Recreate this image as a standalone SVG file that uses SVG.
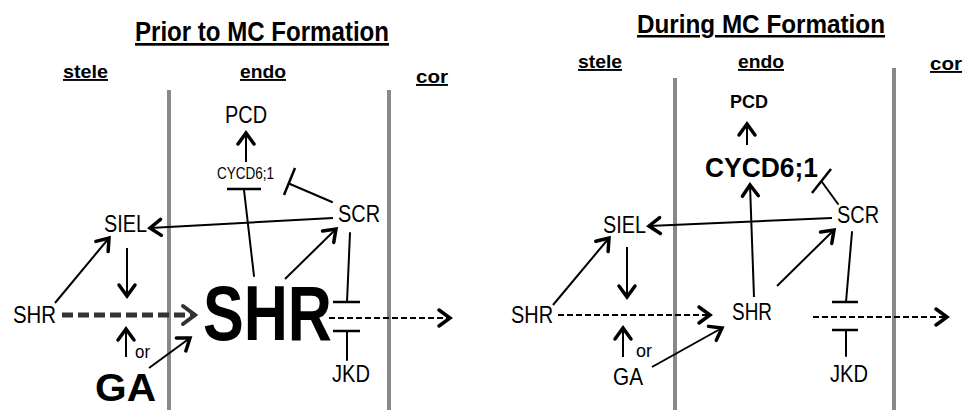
<svg xmlns="http://www.w3.org/2000/svg" width="963" height="410" viewBox="0 0 963 410">
<defs>
<style>
text{font-family:"Liberation Sans",Arial,sans-serif;fill:#000}
.hd{font-weight:bold;text-decoration:underline}
.lb{font-size:24px}
.bd{font-weight:bold}
.wall{stroke:#888;stroke-width:4;fill:none}
.c{stroke:#000;stroke-width:2;fill:none;stroke-linecap:round}
.ca{stroke:#000;stroke-width:2;fill:none;marker-end:url(#ah)}
.bar{stroke:#000;stroke-width:2.5;fill:none}
.dash{stroke:#000;stroke-width:2;fill:none;stroke-dasharray:6 3;marker-end:url(#ah)}
</style>
<marker id="ah" markerUnits="userSpaceOnUse" markerWidth="30" markerHeight="30" viewBox="-15 -15 30 30" refX="0" refY="0" orient="auto">
<path d="M-11,-8 L0,0 L-11,8" fill="none" stroke="#000" stroke-width="3.5" stroke-linecap="round"/>
</marker>
<marker id="ahg" markerUnits="userSpaceOnUse" markerWidth="30" markerHeight="30" viewBox="-15 -15 30 30" refX="0" refY="0" orient="auto">
<path d="M-12,-9 L0,0 L-12,9" fill="none" stroke="#333" stroke-width="4" stroke-linecap="round"/>
</marker>
</defs>
<rect width="963" height="410" fill="#fff"/>

<!-- walls -->
<g id="walls">
<line class="wall" x1="169" y1="90" x2="169" y2="410"/>
<line class="wall" x1="389" y1="90" x2="389" y2="410"/>
<line class="wall" x1="675" y1="78" x2="675" y2="410"/>
<line class="wall" x1="894" y1="68" x2="894" y2="410"/>
</g>

<!-- headings -->
<g id="headings">
<text class="hd" x="135" y="41" font-size="27" textLength="254" lengthAdjust="spacingAndGlyphs">Prior to MC Formation</text>
<text class="hd" x="63" y="78" font-size="19" textLength="45" lengthAdjust="spacingAndGlyphs">stele</text>
<text class="hd" x="240" y="78" font-size="19" textLength="46" lengthAdjust="spacingAndGlyphs">endo</text>
<text class="hd" x="416" y="83" font-size="19" textLength="32" lengthAdjust="spacingAndGlyphs">cor</text>
<text class="hd" x="637" y="33" font-size="25" textLength="248" lengthAdjust="spacingAndGlyphs">During MC Formation</text>
<text class="hd" x="578" y="68" font-size="19" textLength="44" lengthAdjust="spacingAndGlyphs">stele</text>
<text class="hd" x="738" y="68" font-size="19" textLength="46" lengthAdjust="spacingAndGlyphs">endo</text>
<text class="hd" x="930" y="70" font-size="19" textLength="32" lengthAdjust="spacingAndGlyphs">cor</text>
</g>

<!-- left panel nodes -->
<g id="L-PCD"><text class="lb" x="225" y="123" textLength="42" lengthAdjust="spacingAndGlyphs">PCD</text></g>
<g id="L-CYCD"><text x="217" y="179" font-size="16" textLength="57" lengthAdjust="spacingAndGlyphs">CYCD6;1</text></g>
<g id="L-SCR"><text class="lb" x="338" y="222" textLength="42" lengthAdjust="spacingAndGlyphs">SCR</text></g>
<g id="L-SIEL"><text class="lb" x="104" y="232" textLength="43" lengthAdjust="spacingAndGlyphs">SIEL</text></g>
<g id="L-SHRs"><text class="lb" x="13" y="323" textLength="43" lengthAdjust="spacingAndGlyphs">SHR</text></g>
<g id="L-or"><text x="135" y="358" font-size="19" textLength="15" lengthAdjust="spacingAndGlyphs">or</text></g>
<g id="L-GA"><text class="bd" x="95" y="401" font-size="38" textLength="61" lengthAdjust="spacingAndGlyphs">GA</text></g>
<g id="L-SHR"><text class="bd" x="203" y="340" font-size="77" textLength="129" lengthAdjust="spacingAndGlyphs">SHR</text></g>
<g id="L-JKD"><text class="lb" x="332" y="382" textLength="38" lengthAdjust="spacingAndGlyphs">JKD</text></g>

<!-- right panel nodes -->
<g id="R-PCD"><text class="bd" x="730" y="108" font-size="18" textLength="38" lengthAdjust="spacingAndGlyphs">PCD</text></g>
<g id="R-CYCD"><text class="bd" x="705" y="177" font-size="28" textLength="113" lengthAdjust="spacingAndGlyphs">CYCD6;1</text></g>
<g id="R-SCR"><text class="lb" x="837" y="223" textLength="42" lengthAdjust="spacingAndGlyphs">SCR</text></g>
<g id="R-SIEL"><text class="lb" x="603" y="233" textLength="43" lengthAdjust="spacingAndGlyphs">SIEL</text></g>
<g id="R-SHRs"><text class="lb" x="511" y="323" textLength="42" lengthAdjust="spacingAndGlyphs">SHR</text></g>
<g id="R-or"><text x="636" y="357" font-size="19" textLength="16" lengthAdjust="spacingAndGlyphs">or</text></g>
<g id="R-GA"><text class="lb" x="613" y="385" textLength="30" lengthAdjust="spacingAndGlyphs">GA</text></g>
<g id="R-SHR"><text class="lb" x="732" y="320" textLength="40" lengthAdjust="spacingAndGlyphs">SHR</text></g>
<g id="R-JKD"><text class="lb" x="830" y="382" textLength="38" lengthAdjust="spacingAndGlyphs">JKD</text></g>

<!-- connectors -->
<g id="connectors">
<!-- left -->
<line class="ca" x1="246" y1="162" x2="246" y2="133"/>
<line class="c" x1="254" y1="276" x2="244" y2="190" stroke-width="3.5"/>
<line class="bar" x1="227" y1="189" x2="261" y2="189" stroke-width="5"/>
<line class="c" x1="332" y1="202" x2="290" y2="184"/>
<line class="bar" x1="284" y1="195" x2="295" y2="168"/>
<line class="ca" x1="333" y1="218" x2="150" y2="228" stroke-width="2.5"/>
<line class="ca" x1="55" y1="303" x2="109" y2="238"/>
<line class="ca" x1="127" y1="248" x2="127" y2="296"/>
<line class="ca" x1="126" y1="357" x2="126" y2="329"/>
<line x1="62" y1="315" x2="195" y2="315" stroke="#333" stroke-width="5" stroke-dasharray="11 5" marker-end="url(#ahg)"/>
<line class="ca" x1="149" y1="368" x2="190" y2="338"/>
<line class="ca" x1="285" y1="279" x2="336" y2="229"/>
<line class="c" x1="350" y1="233" x2="347" y2="302"/>
<line class="bar" x1="333" y1="302" x2="360" y2="302"/>
<line class="c" x1="347" y1="360" x2="347" y2="331"/>
<line class="bar" x1="333" y1="331" x2="360" y2="331"/>
<line class="dash" x1="329" y1="318" x2="450" y2="318"/>
<!-- right -->
<line class="ca" x1="747" y1="145" x2="747" y2="124"/>
<line class="ca" x1="754" y1="297" x2="750" y2="185" stroke-width="3.5"/>
<line class="c" x1="838" y1="204" x2="822" y2="182"/>
<line class="bar" x1="812" y1="193" x2="831" y2="169"/>
<line class="ca" x1="832" y1="218" x2="649" y2="226" stroke-width="2.5"/>
<line class="ca" x1="553" y1="305" x2="609" y2="238"/>
<line class="ca" x1="627" y1="247" x2="627" y2="297"/>
<line class="ca" x1="623" y1="357" x2="623" y2="328"/>
<line class="dash" x1="558" y1="315" x2="710" y2="315"/>
<line class="ca" x1="652" y1="367" x2="722" y2="328"/>
<line class="ca" x1="777" y1="286" x2="834" y2="230"/>
<line class="c" x1="852" y1="232" x2="846" y2="302"/>
<line class="bar" x1="832" y1="302" x2="858" y2="302"/>
<line class="c" x1="846" y1="356" x2="846" y2="330"/>
<line class="bar" x1="832" y1="330" x2="858" y2="330"/>
<line class="dash" x1="813" y1="317" x2="947" y2="317"/>
</g>
</svg>
